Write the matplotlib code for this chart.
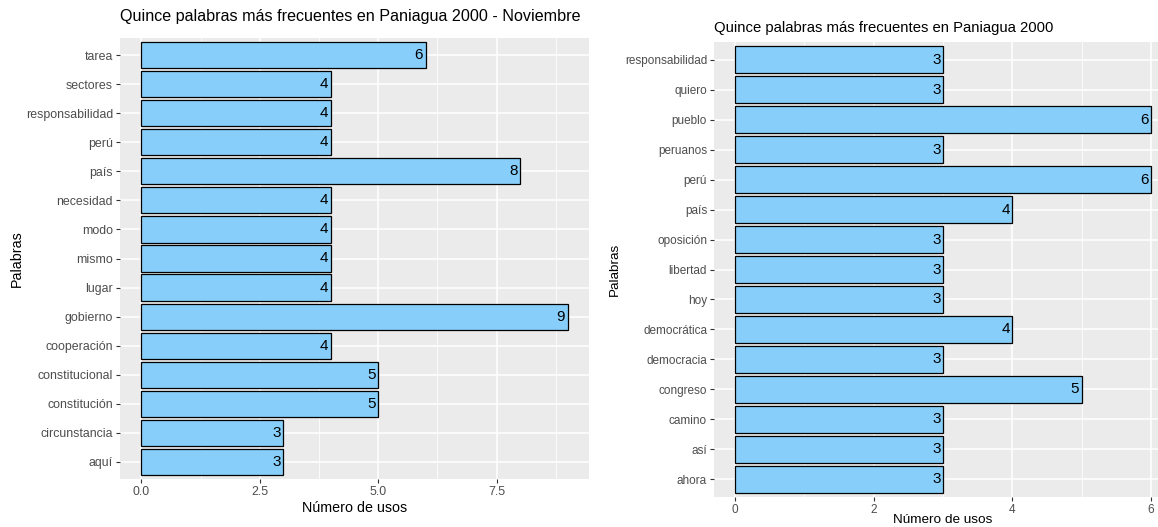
import matplotlib
matplotlib.use("Agg")
import matplotlib.pyplot as plt
from matplotlib.ticker import MultipleLocator

plt.rcParams['font.family'] = ['Liberation Sans', 'DejaVu Sans']

# Left chart data (top to bottom)
words_left = ["tarea", "sectores", "responsabilidad", "perú", "país", "necesidad", "modo",
              "mismo", "lugar", "gobierno", "cooperación", "constitucional", "constitución",
              "circunstancia", "aquí"]
counts_left = [6, 4, 4, 4, 8, 4, 4, 4, 4, 9, 4, 5, 5, 3, 3]
title_left = "Quince palabras más frecuentes en Paniagua 2000 - Noviembre"
xticks_left = [0.0, 2.5, 5.0, 7.5]
xticklabels_left = ["0.0", "2.5", "5.0", "7.5"]

# Right chart data (top to bottom)
words_right = ["responsabilidad", "quiero", "pueblo", "peruanos", "perú", "país", "oposición",
               "libertad", "hoy", "democrática", "democracia", "congreso", "camino", "así", "ahora"]
counts_right = [3, 3, 6, 3, 6, 4, 3, 3, 3, 4, 3, 5, 3, 3, 3]
title_right = "Quince palabras más frecuentes en Paniagua 2000"
xticks_right = [0, 2, 4, 6]
xticklabels_right = ["0", "2", "4", "6"]

W, H = 1158, 527
fig = plt.figure(figsize=(W / 100, H / 100), dpi=100)

BG = "#EBEBEB"
BAR = "#87CEFA"
TXT = "#4D4D4D"


def panel(rect, words, counts, title, xticks, xticklabels, minor_step,
          tick_fs, title_fs, title_pad, lab_fs, xlab_pad, ylab_pad, val_fs):
    ax = fig.add_axes(rect)
    ax.set_facecolor(BG)
    n = len(words)
    ypos = list(range(n))[::-1]
    mx = max(counts)
    ax.barh(ypos, counts, height=0.9, color=BAR, edgecolor="black", linewidth=0.9, zorder=3)
    for y, v in zip(ypos, counts):
        ax.text(v - 0.006 * mx, y, str(v), ha="right", va="center",
                fontsize=val_fs, color="black", zorder=4)
    ax.set_xlim(-0.05 * mx, mx * 1.05)
    ax.set_ylim(-0.6, n - 1 + 0.6)
    ax.set_yticks(ypos)
    ax.set_yticklabels(words)
    ax.set_xticks(xticks)
    ax.set_xticklabels(xticklabels)
    ax.xaxis.set_minor_locator(MultipleLocator(minor_step))
    ax.grid(True, which="major", color="white", linewidth=1.1, zorder=0)
    ax.grid(True, which="minor", axis="x", color="white", linewidth=0.55, zorder=0)
    ax.set_axisbelow(True)
    for s in ax.spines.values():
        s.set_visible(False)
    ax.tick_params(axis="both", which="major", length=3, width=0.8, color="#333333",
                   labelsize=tick_fs, labelcolor=TXT, pad=2)
    ax.tick_params(axis="both", which="minor", length=0)
    ax.set_xlabel("Número de usos", fontsize=lab_fs, color="black", labelpad=xlab_pad)
    ax.set_ylabel("Palabras", fontsize=lab_fs, color="black", labelpad=ylab_pad)
    ax.set_title(title, loc="left", fontsize=title_fs, color="black", pad=title_pad, x=0.0)
    return ax


panel([120 / W, 47.6 / H, 469 / W, 441.8 / H], words_left, counts_left, title_left,
      xticks_left, xticklabels_left, 1.25,
      tick_fs=8.9, title_fs=11.6, title_pad=12, lab_fs=10.3, xlab_pad=2, ylab_pad=1.5,
      val_fs=11)
panel([714 / W, 30 / H, 458 / W, 455 / H], words_right, counts_right, title_right,
      xticks_right, xticklabels_right, 1.0,
      tick_fs=8.5, title_fs=10.7, title_pad=7, lab_fs=9.7, xlab_pad=-1.5, ylab_pad=3,
      val_fs=11)

fig.savefig("out.png", dpi=100)
